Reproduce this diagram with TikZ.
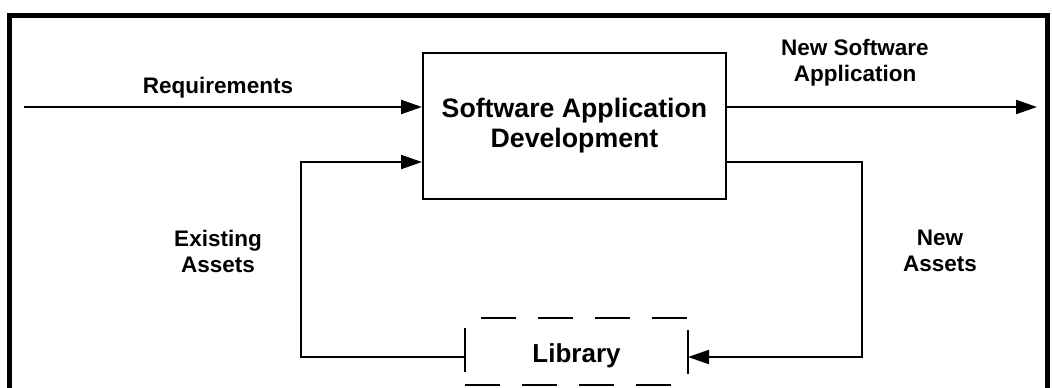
\documentclass[tikz,border=0pt]{standalone}
\usepackage{fontspec}
\setmainfont{Liberation Sans}
\usetikzlibrary{arrows.meta,calc}
\begin{document}
\begin{tikzpicture}[x=1pt,y=-1pt,
  conn/.style={line width=2pt,-{Triangle[length=21pt,width=14pt]}},
  plain/.style={line width=2pt},
  lbl/.style={font=\fontsize{22.5}{26}\selectfont\bfseries,align=center,inner sep=0pt},
  boxtext/.style={font=\fontsize{26.7}{30}\selectfont\bfseries,align=center}]
\useasboundingbox (0,0) rectangle (1052,388);
% outer frame (bottom runs off the picture)
\draw[line width=5pt] (9,400) -- (9,15) -- (1047,15) -- (1047,400);
% main box
\node[draw,line width=2pt,minimum width=303pt,minimum height=146pt,inner sep=0pt,boxtext] (dev) at (574.5,126) {Software Application\\Development};
% library
\node[minimum width=223pt,minimum height=67pt,inner sep=0pt,boxtext,font=\fontsize{26}{30}\selectfont\bfseries] (lib) at (576.5,356) {Library};
\draw[line width=2pt,dash pattern=on 35pt off 22pt] (481,318) -- (690,318);
\draw[line width=2pt,dash pattern=on 35pt off 22pt] (465,385) -- (676,385);
\draw[plain] (465,328) -- (465,372);
\draw[plain] (688,330) -- (688,374);
% coordinates
\coordinate (reqin) at (24,107);
\coordinate (out) at (1037,107);
\coordinate (lw) at (465,357);
\coordinate (le) at (688,357);
\coordinate (lc) at (301,357);
\coordinate (rc) at (862,357);
% connectors
\draw[conn] (reqin) -- (dev.west |- reqin);
\draw[conn] (dev.east |- out) -- (out);
\draw[conn] (lw) -- (lc) -- (lc |- 0,162) -- (dev.west |- 0,162);
\draw[conn] (dev.east |- 0,162) -- (rc |- 0,162) -- (rc) -- (le);
% labels
\node[lbl] (reqlbl) at (218,88) {Requirements};
\node[lbl] (outlbl) at (855,63) {New Software\\Application};
\node[lbl] (exlbl) at (218,251) {Existing\\Assets};
\node[lbl] (nalbl) at (940,251) {New\\Assets};
\end{tikzpicture}
\end{document}
